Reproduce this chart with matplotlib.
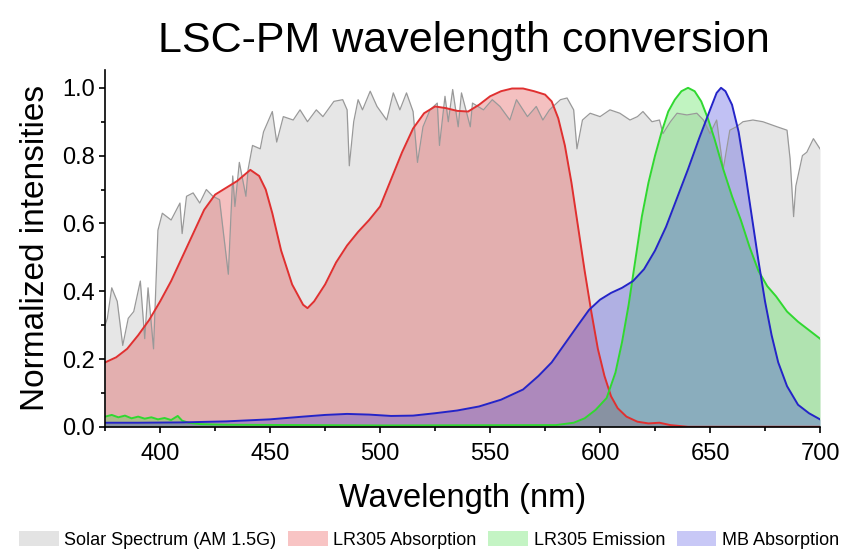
import matplotlib
matplotlib.use("Agg")
import matplotlib.pyplot as plt
from matplotlib.patches import Patch
from matplotlib.ticker import MultipleLocator

plt.rcParams['font.family'] = ['Liberation Sans', 'DejaVu Sans']

# Solar spectrum (AM 1.5G), normalized
solar_nm = [375, 376, 378, 380.5, 383, 385.5, 388, 391, 393, 394.5, 397, 399, 401, 405, 409, 410,
            412, 415, 418, 421, 424, 427, 431, 433, 434, 436, 439, 440, 442, 445.5, 447, 451, 453,
            456, 460.5, 463.6, 467, 471, 474, 479, 483, 485, 486, 488, 490, 492, 495.5, 498.6, 503,
            506, 509, 512, 515, 517, 519.5, 522.7, 526, 527, 529.5, 531, 533, 535.5, 537, 541, 542,
            547, 551, 554.5, 559, 562, 567, 571, 574, 577, 582, 585, 588, 589.5, 592, 595.5, 600,
            604.5, 609, 613.6, 617, 619.5, 623.6, 627, 628.6, 632, 635, 639.5, 644, 647, 650, 653,
            656, 659, 662, 665, 669.5, 674, 680.5, 685, 686.4, 688, 689, 692, 694, 697, 700]
solar_val = [0.30, 0.32, 0.41, 0.37, 0.24, 0.32, 0.34, 0.43, 0.26, 0.41, 0.23, 0.58, 0.63, 0.61, 0.66, 0.57,
             0.68, 0.69, 0.66, 0.70, 0.68, 0.67, 0.45, 0.74, 0.65, 0.78, 0.68, 0.76, 0.83, 0.82, 0.87, 0.93, 0.84,
             0.915, 0.905, 0.935, 0.90, 0.935, 0.915, 0.96, 0.965, 0.935, 0.77, 0.90, 0.965, 0.935, 0.99, 0.945, 0.905,
             0.985, 0.935, 0.985, 0.93, 0.78, 0.885, 0.935, 0.955, 0.83, 0.975, 0.90, 0.995, 0.885, 0.985, 0.885, 0.955,
             0.935, 0.965, 0.945, 0.905, 0.965, 0.915, 0.945, 0.905, 0.935, 0.965, 0.97, 0.935, 0.82, 0.905, 0.925, 0.915,
             0.935, 0.925, 0.905, 0.915, 0.93, 0.90, 0.905, 0.865, 0.90, 0.925, 0.92, 0.925, 0.905, 0.865, 0.905,
             0.76, 0.875, 0.885, 0.90, 0.905, 0.90, 0.885, 0.875, 0.79, 0.62, 0.71, 0.80, 0.81, 0.85, 0.82]

# LR305 absorption
lr_abs_nm = [375, 380, 385, 390, 395, 400, 405, 410, 415, 420, 425, 430, 435, 441, 445, 448, 451, 455,
             460, 465, 467, 470, 475, 480, 485, 490, 495, 500, 505, 510, 515, 520, 525, 530, 535, 540,
             545, 550, 555, 560, 565, 570, 575, 578, 581, 584, 587, 590, 593, 596, 599, 602, 605, 608,
             612, 617, 622, 627, 632, 640, 700]
lr_abs_val = [0.19, 0.205, 0.23, 0.27, 0.315, 0.37, 0.43, 0.50, 0.57, 0.64, 0.685, 0.705, 0.725, 0.758, 0.74, 0.70, 0.63, 0.52,
              0.42, 0.36, 0.35, 0.37, 0.42, 0.485, 0.535, 0.575, 0.61, 0.65, 0.73, 0.81, 0.88, 0.925, 0.945, 0.94, 0.932, 0.93,
              0.95, 0.975, 0.99, 0.998, 0.998, 0.99, 0.98, 0.96, 0.91, 0.83, 0.72, 0.59, 0.46, 0.34, 0.23, 0.15, 0.09, 0.055,
              0.03, 0.015, 0.01, 0.012, 0.005, 0.0, 0.0]

# LR305 emission
lr_em_nm = [375, 378, 381, 384, 387, 390, 393, 396, 399, 402, 405, 408, 410, 413, 418, 430, 500, 580,
            588, 593, 598, 603, 607, 610, 613, 616, 619, 622, 625, 628, 631, 634, 637, 640, 643, 646,
            649, 652, 656, 660, 664, 668, 672, 676, 680, 685, 690, 695, 700]
lr_em_val = [0.03, 0.035, 0.028, 0.033, 0.025, 0.03, 0.024, 0.028, 0.022, 0.026, 0.02, 0.032, 0.018, 0.012, 0.008, 0.006, 0.004, 0.005,
             0.012, 0.025, 0.05, 0.085, 0.16, 0.25, 0.36, 0.49, 0.62, 0.72, 0.80, 0.87, 0.93, 0.965, 0.99, 1.0, 0.99, 0.96,
             0.91, 0.85, 0.76, 0.68, 0.61, 0.53, 0.46, 0.415, 0.385, 0.34, 0.31, 0.285, 0.26]

# MB absorption
mb_abs_nm = [375, 390, 410, 430, 450, 465, 475, 485, 495, 505, 515, 525, 535, 545, 555, 565, 572, 578,
             584, 590, 595, 600, 605, 610, 615, 620, 625, 630, 635, 640, 645, 650, 653, 655, 657, 660,
             663, 666, 669, 672, 675, 678, 681, 685, 690, 695, 700]
mb_abs_val = [0.012, 0.012, 0.013, 0.016, 0.022, 0.03, 0.035, 0.038, 0.036, 0.032, 0.033, 0.04, 0.048, 0.06, 0.08, 0.11, 0.15, 0.19,
              0.245, 0.30, 0.345, 0.375, 0.395, 0.41, 0.43, 0.465, 0.52, 0.59, 0.675, 0.76, 0.85, 0.935, 0.985, 1.0, 0.99, 0.95,
              0.87, 0.75, 0.62, 0.49, 0.37, 0.27, 0.19, 0.12, 0.065, 0.04, 0.022]

series = [
    ('Solar Spectrum (AM 1.5G)', solar_nm, solar_val, '#e6e6e6', 1.0, '#999999', 0.9, '#e3e3e3'),
    ('LR305 Absorption', lr_abs_nm, lr_abs_val, '#dd3030', 0.3, '#e03030', 1.4, '#f8c4c4'),
    ('LR305 Emission', lr_em_nm, lr_em_val, '#33dd33', 0.3, '#30d830', 1.4, '#c4f4c4'),
    ('MB Absorption', mb_abs_nm, mb_abs_val, '#3333dd', 0.3, '#2424c8', 1.4, '#c8c8f6'),
]

fig = plt.figure(figsize=(8.48, 5.5), dpi=100)
ax = fig.add_axes([0.124, 0.224, 0.843, 0.649])

handles = []
for name, x, y, fill_c, alpha, line_c, lw, legend_c in series:
    ax.fill_between(x, 0, y, color=fill_c, alpha=alpha, linewidth=0)
    ax.plot(x, y, color=line_c, linewidth=lw)
    handles.append(Patch(facecolor=legend_c, edgecolor='none', label=name))

ax.set_xlim(375, 700)
ax.set_ylim(0, 1.053)
ax.xaxis.set_major_locator(MultipleLocator(50))
ax.xaxis.set_minor_locator(MultipleLocator(25))
ax.yaxis.set_major_locator(MultipleLocator(0.2))
ax.yaxis.set_minor_locator(MultipleLocator(0.1))
ax.yaxis.set_major_formatter(plt.FormatStrFormatter('%.1f'))
ax.tick_params(which='major', direction='out', length=4.5, width=1.2, labelsize=17, pad=3)
ax.tick_params(axis='x', which='major', pad=7)
ax.tick_params(which='minor', direction='out', length=3, width=1.2)
ax.spines['top'].set_visible(False)
ax.spines['right'].set_visible(False)
ax.spines['left'].set_linewidth(1.2)
ax.spines['bottom'].set_linewidth(1.2)

ax.set_xlabel('Wavelength (nm)', fontsize=23.5, labelpad=13)
ax.set_ylabel('Normalized intensities', fontsize=24, labelpad=8)
fig.suptitle('LSC-PM wavelength conversion', fontsize=31, x=0.547, y=0.962)

fig.legend(handles=handles, loc='center', bbox_to_anchor=(0.506, 0.018), ncol=4, frameon=False,
           fontsize=13, handlelength=2.2, handleheight=0.85, columnspacing=0.65, handletextpad=0.3,
           borderpad=0)

plt.savefig('out.png', dpi=100)
plt.close()
